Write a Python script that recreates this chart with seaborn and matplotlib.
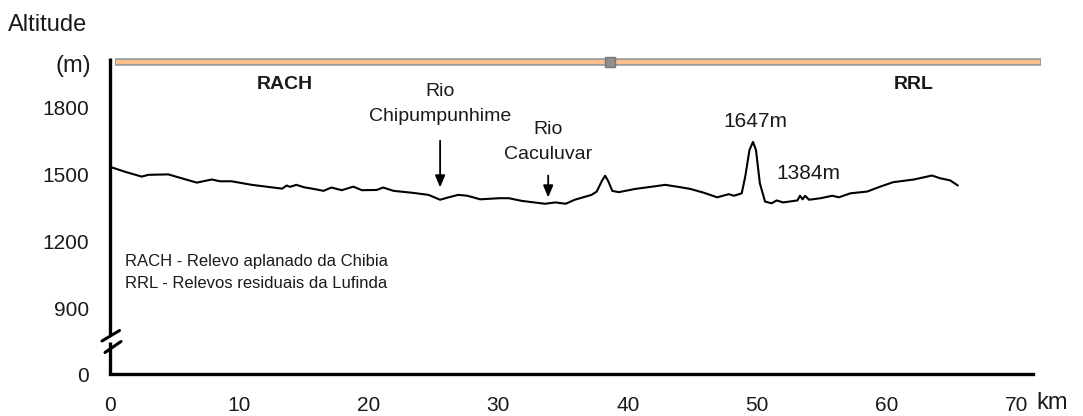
import numpy as np
import pandas as pd
import matplotlib
matplotlib.use("Agg")
import matplotlib.pyplot as plt
from matplotlib.lines import Line2D
import seaborn as sns

# ---------------- data ----------------
distance_km = [0.0, 1.2, 2.45, 2.96, 4.5, 6.7, 7.86, 8.5, 9.4, 10.95, 13.3, 13.65, 13.9,
               14.4, 15.0, 15.7, 16.5, 17.1, 17.9, 18.8, 19.45, 20.6, 21.1, 21.9, 23.4,
               24.6, 25.5, 26.1, 26.9, 27.6, 28.6, 30.1, 30.8, 31.8, 33.6, 34.4, 35.2,
               35.9, 37.2, 37.6, 38.0, 38.25, 38.5, 38.8, 39.3, 40.6, 41.9, 42.9, 44.2,
               44.8, 45.85, 46.9, 47.8, 48.2, 48.8, 49.07, 49.4, 49.67, 49.9, 50.2, 50.6,
               51.1, 51.5, 52.0, 53.1, 53.3, 53.5, 53.7, 54.0, 54.9, 55.8, 56.3, 57.2,
               58.5, 59.5, 60.5, 62.1, 63.5, 64.1, 64.9, 65.5]
altitude_m = [1535, 1512, 1491, 1499, 1501, 1464, 1478, 1470, 1470, 1454, 1437, 1451, 1445,
              1454, 1443, 1436, 1427, 1442, 1430, 1446, 1430, 1431, 1442, 1427, 1418,
              1409, 1387, 1397, 1409, 1405, 1389, 1394, 1394, 1382, 1369, 1375, 1369,
              1387, 1409, 1424, 1472, 1495, 1469, 1427, 1421, 1436, 1446, 1454, 1442,
              1436, 1419, 1398, 1412, 1405, 1416, 1491, 1611, 1647, 1611, 1461, 1379,
              1371, 1384, 1375, 1384, 1405, 1389, 1405, 1387, 1394, 1405, 1398, 1416,
              1424, 1446, 1466, 1478, 1496, 1484, 1474, 1451]

x_ticks = [0, 10, 20, 30, 40, 50, 60, 70]
y_tick_values = [0, 900, 1200, 1500, 1800]
y_tick_labels = ["0", "900", "1200", "1500", "1800"]

rivers = ["Rio\nChipumpunhime", "Rio\nCaculuvar"]
river_km = [25.5, 33.85]
river_bed_m = [1442, 1397]

peak_labels = ["1647m", "1384m"]
units = ["RACH", "RRL"]
legend_lines = ["RACH - Relevo aplanado da Chibia", "RRL - Relevos residuais da Lufinda"]
divider_km = 38.6

# broken axis: values below 900 are shifted up next to 900
BREAK_BASE = 604
def ypos(v):
    return v if v >= 900 else BREAK_BASE + v

# ---------------- style ----------------
sns.set_theme(style="white")
FONT = ["Liberation Sans Narrow", "Liberation Sans", "DejaVu Sans"]
plt.rcParams["font.family"] = FONT
TXT = "#1a1a1a"

fig = plt.figure(figsize=(10.83, 4.16), dpi=100)
ax = fig.add_axes([110/1083, 1-374/416, (1033-110)/1083, (374-58)/416])

df = pd.DataFrame({"km": distance_km, "alt": altitude_m})
sns.lineplot(data=df, x="km", y="alt", ax=ax, color="black", lw=1.5, sort=False)

ax.set_xlim(0, 71.3)
ax.set_ylim(BREAK_BASE, 2024)
ax.set_xlabel("")
ax.set_ylabel("")
ax.set_xticks(x_ticks)
ax.set_xticklabels([str(t) for t in x_ticks])
ax.set_yticks([ypos(v) for v in y_tick_values])
ax.set_yticklabels(y_tick_labels)
ax.tick_params(axis="both", direction="out", length=7, width=1.2, color="black",
               labelsize=15, labelcolor=TXT)
ax.tick_params(axis="y", pad=8)
ax.tick_params(axis="x", pad=9)

for s in ["top", "right", "left"]:
    ax.spines[s].set_visible(False)
ax.spines["bottom"].set_linewidth(2.4)
ax.spines["bottom"].set_color("black")

# left spine with break (gap expressed in axis positions)
gap_lo, gap_hi = 748, 779
ax.plot([0, 0], [BREAK_BASE, gap_lo], color="black", lw=2.4, clip_on=False, solid_capstyle="butt")
ax.plot([0, 0], [gap_hi, 2024], color="black", lw=2.4, clip_on=False, solid_capstyle="butt")
fig.add_artist(Line2D([102/1083, 119.5/1083], [1-341/416, 1-330.5/416], color="black", lw=2.2))
fig.add_artist(Line2D([105/1083, 121/1083], [1-352.5/416, 1-341.5/416], color="black", lw=2.2))

# top orange bar
ax.plot([0.4, 71.9], [2007, 2007], color="#9a9a9a", lw=5.5, clip_on=False, solid_capstyle="butt")
ax.plot([0.45, 71.85], [2007, 2007], color="#fbc08c", lw=3.0, clip_on=False, solid_capstyle="butt")
ax.plot([divider_km], [2007], marker="s", ms=6.5, color="#8f8f8f", mec="#777777", clip_on=False)

# unit labels
ax.text(13.5, 1907, units[0], ha="center", va="center", fontsize=14, fontweight="bold", color=TXT)
ax.text(62.05, 1907, units[1], ha="center", va="center", fontsize=14, fontweight="bold", color=TXT)

# rivers with arrows
ax.text(river_km[0], 1818, rivers[0], ha="center", va="center", fontsize=14, color=TXT, linespacing=1.6)
ax.text(river_km[1], 1648, rivers[1], ha="center", va="center", fontsize=14, color=TXT, linespacing=1.6)
arrow_tops = [1652, 1496]
for k, b, t in zip(river_km, river_bed_m, arrow_tops):
    ax.annotate("", xy=(k, b), xytext=(k, t),
                arrowprops=dict(arrowstyle="-|>,head_length=0.6,head_width=0.25",
                                color="black", lw=1.3, shrinkA=0, shrinkB=0))

# peak labels
ax.text(49.85, 1737, peak_labels[0], ha="center", va="center", fontsize=15, color=TXT)
ax.text(53.95, 1504, peak_labels[1], ha="center", va="center", fontsize=15, color=TXT)

# legend-like text
ax.text(1.16, 1110, legend_lines[0], ha="left", va="center", fontsize=12, color=TXT)
ax.text(1.16, 1012, legend_lines[1], ha="left", va="center", fontsize=12, color=TXT)

# axis titles
fig.text(8/1083, 1-25/416, "Altitude", ha="left", va="center", fontsize=17, color=TXT)
fig.text(91/1083, 1-66/416, "(m)", ha="right", va="center", fontsize=17, color=TXT)
fig.text(1036/1083, 1-403/416, "km", ha="left", va="center", fontsize=17, color=TXT)

fig.savefig("out.png", dpi=100, facecolor="white")
